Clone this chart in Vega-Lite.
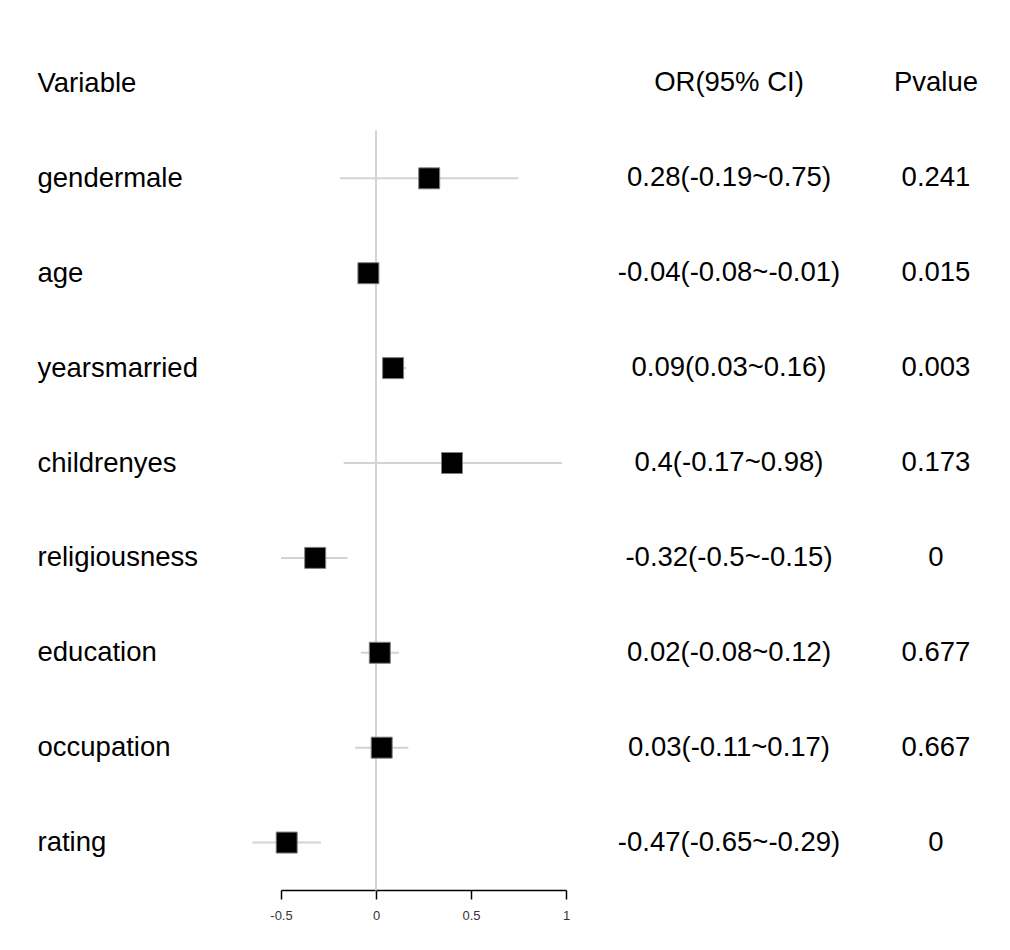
{
  "$schema": "https://vega.github.io/schema/vega-lite/v6.json",
  "padding": {"top": 36, "left": 37, "right": 0, "bottom": 0},
  "background": "white",
  "datasets": {
    "rows": [
      {"variable": "Variable", "ci": "OR(95% CI)", "p": "Pvalue"},
      {"variable": "gendermale", "est": 0.28, "lo": -0.19, "hi": 0.75, "ci": "0.28(-0.19~0.75)", "p": "0.241"},
      {"variable": "age", "est": -0.04, "lo": -0.08, "hi": -0.01, "ci": "-0.04(-0.08~-0.01)", "p": "0.015"},
      {"variable": "yearsmarried", "est": 0.09, "lo": 0.03, "hi": 0.16, "ci": "0.09(0.03~0.16)", "p": "0.003"},
      {"variable": "childrenyes", "est": 0.4, "lo": -0.17, "hi": 0.98, "ci": "0.4(-0.17~0.98)", "p": "0.173"},
      {"variable": "religiousness", "est": -0.32, "lo": -0.5, "hi": -0.15, "ci": "-0.32(-0.5~-0.15)", "p": "0"},
      {"variable": "education", "est": 0.02, "lo": -0.08, "hi": 0.12, "ci": "0.02(-0.08~0.12)", "p": "0.677"},
      {"variable": "occupation", "est": 0.03, "lo": -0.11, "hi": 0.17, "ci": "0.03(-0.11~0.17)", "p": "0.667"},
      {"variable": "rating", "est": -0.47, "lo": -0.65, "hi": -0.29, "ci": "-0.47(-0.65~-0.29)", "p": "0"}
    ]
  },
  "data": {"name": "rows"},
  "spacing": 0,
  "bounds": "flush",
  "resolve": {"scale": {"y": "shared"}},
  "config": {"view": {"stroke": null}, "font": "Liberation Sans"},
  "hconcat": [
    {
      "width": 285,
      "height": 854,
      "transform": [{"filter": "isValid(datum.est)"}],
      "encoding": {
        "y": {
          "field": "variable", "type": "nominal", "sort": null,
          "scale": {"type": "point", "padding": 0.5, "domain": ["Variable", "gendermale", "age", "yearsmarried", "childrenyes", "religiousness", "education", "occupation", "rating"]},
          "axis": {"title": null, "domain": false, "ticks": false, "grid": false, "labelAlign": "left", "labelBaseline": "middle", "labelPadding": 244, "labelFontSize": 27.5, "labelFont": "Liberation Sans", "labelColor": "black", "labelLimit": 400}
        }
      },
      "layer": [
        {
          "mark": {"type": "tick", "size": 96, "thickness": 2, "color": "#d3d3d3", "opacity": 1},
          "encoding": {
            "x": {
              "datum": 0, "type": "quantitative",
              "scale": {"domain": [-0.5, 1], "nice": false, "zero": false},
              "axis": {"values": [-0.5, 0, 0.5, 1], "labelExpr": "datum.value + ''", "title": null, "grid": false, "domainColor": "black", "domainWidth": 1.5, "tickColor": "black", "tickWidth": 1.5, "tickSize": 9, "labelFontSize": 13, "labelColor": "#333333", "labelPadding": 10, "labelFlush": false, "labelFont": "Liberation Sans"}
            }
          }
        },
        {
          "mark": {"type": "rule", "strokeWidth": 2, "color": "#d3d3d3"},
          "encoding": {"x": {"field": "lo", "type": "quantitative"}, "x2": {"field": "hi"}}
        },
        {
          "mark": {"type": "point", "shape": "square", "filled": true, "size": 441, "fill": "black", "stroke": "#808080", "strokeWidth": 1, "opacity": 1},
          "encoding": {"x": {"field": "est", "type": "quantitative"}}
        }
      ]
    },
    {
      "width": 326,
      "height": 854,
      "mark": {"type": "text", "fontSize": 27.5, "color": "black", "font": "Liberation Sans", "baseline": "middle"},
      "encoding": {
        "y": {"field": "variable", "type": "nominal", "sort": null, "axis": null},
        "text": {"field": "ci"}
      }
    },
    {
      "width": 88,
      "height": 854,
      "mark": {"type": "text", "fontSize": 27.5, "color": "black", "font": "Liberation Sans", "baseline": "middle"},
      "encoding": {
        "y": {"field": "variable", "type": "nominal", "sort": null, "axis": null},
        "text": {"field": "p"}
      }
    }
  ]
}
